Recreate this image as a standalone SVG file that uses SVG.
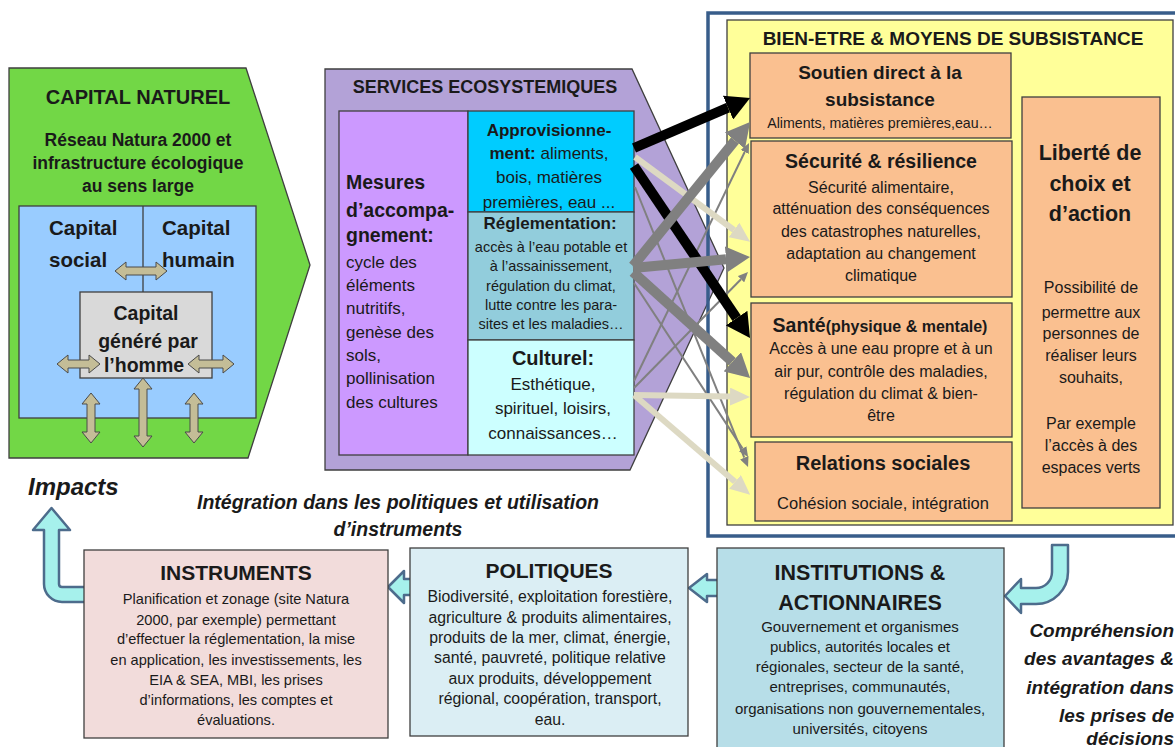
<svg xmlns="http://www.w3.org/2000/svg" width="1175" height="747" viewBox="0 0 1175 747">
<style>
text{font-family:"Liberation Sans",Arial,sans-serif;fill:#1a1a1a}
.m{text-anchor:middle}
.e{text-anchor:end}
.b{font-weight:bold}
.i{font-style:italic}
.bx{stroke:#3f3f3f;stroke-width:1.3}
.tan{fill:#c4bd97;stroke:#4a4a4a;stroke-width:1}
.cy{fill:#a6f1ec;stroke:#4d6c8c;stroke-width:2.5;stroke-linejoin:round}
.k{fill:none;stroke:#000;stroke-width:10;marker-end:url(#hK)}
.g{fill:none;stroke:#808080;stroke-width:10;marker-end:url(#hG)}
.be{fill:none;stroke:#ddd9c3;stroke-width:6;marker-end:url(#hB)}
.th{fill:none;stroke:#808080;stroke-width:2;marker-end:url(#hT)}
</style>
<defs>
<marker id="hK" markerUnits="userSpaceOnUse" viewBox="0 -13 24 26" refX="0" refY="0" markerWidth="24" markerHeight="26" orient="auto"><path d="M0,-13 L24,0 L0,13 z" fill="#000"/></marker>
<marker id="hG" markerUnits="userSpaceOnUse" viewBox="0 -13 24 26" refX="0" refY="0" markerWidth="24" markerHeight="26" orient="auto"><path d="M0,-13 L24,0 L0,13 z" fill="#808080"/></marker>
<marker id="hB" markerUnits="userSpaceOnUse" viewBox="0 -9 20 18" refX="0" refY="0" markerWidth="20" markerHeight="18" orient="auto"><path d="M0,-9 L20,0 L0,9 z" fill="#ddd9c3"/></marker>
<marker id="hT" markerUnits="userSpaceOnUse" viewBox="0 -4.5 10 9" refX="0" refY="0" markerWidth="10" markerHeight="9" orient="auto"><path d="M0,-4.5 L10,0 L0,4.5 z" fill="#808080"/></marker>
</defs>
<rect width="1175" height="747" fill="#fff"/>

<g id="capital-naturel">
<polygon class="bx" points="9,68 246,68 310,265 248,458 9,458" fill="#72d746"/>
<text class="b m" x="138" y="104" font-size="20">CAPITAL NATUREL</text>
<text class="b m" x="138" y="146" font-size="17.5">Réseau Natura 2000 et</text>
<text class="b m" x="138" y="169" font-size="17.5">infrastructure écologique</text>
<text class="b m" x="138" y="192" font-size="17.5">au sens large</text>
<rect class="bx" x="19" y="206" width="237" height="212" fill="#99ccff"/>
<line x1="143" y1="206" x2="143" y2="292" stroke="#3f3f3f" stroke-width="1.3"/>
<text class="b" x="49" y="235" font-size="20.5">Capital</text>
<text class="b" x="49" y="267" font-size="20.5">social</text>
<text class="b" x="162" y="235" font-size="20.5">Capital</text>
<text class="b" x="162" y="267" font-size="20.5">humain</text>
<rect class="bx" x="80" y="292" width="132" height="86" fill="#d9d9d9"/>
<text class="b m" x="146" y="320" font-size="19.5">Capital</text>
<text class="b m" x="148" y="348" font-size="19.5">généré par</text>
<text class="b m" x="144" y="372" font-size="19.5">l’homme</text>
<polygon class="tan" points="115,271 126,262 126,267 156,267 156,262 167,271 156,280 156,275 126,275 126,280"/>
<polygon class="tan" points="57,364 68,355 68,360 89,360 89,355 100,364 89,373 89,368 68,368 68,373"/>
<polygon class="tan" points="188,364 199,355 199,360 223,360 223,355 234,364 223,373 223,368 199,368 199,373"/>
<polygon class="tan" points="91,393 100,404 95,404 95,432 100,432 91,443 82,432 87,432 87,404 82,404"/>
<polygon class="tan" points="143,378 152,389 147,389 147,436 152,436 143,447 134,436 139,436 139,389 134,389"/>
<polygon class="tan" points="194,393 203,404 198,404 198,432 203,432 194,443 185,432 190,432 190,404 185,404"/>
</g>

<g id="services-ecosystemiques">
<polygon class="bx" points="325,69 632,69 724,268 630,470 325,470" fill="#b3a2d7"/>
<text class="b m" x="485" y="93" font-size="18">SERVICES ECOSYSTEMIQUES</text>
<rect class="bx" x="339" y="111" width="129" height="344" fill="#cc99ff"/>
<text class="b" x="346" y="189" font-size="19.5">Mesures</text>
<text class="b" x="346" y="217" font-size="19.5">d’accompa-</text>
<text class="b" x="346" y="242" font-size="19.5">gnement:</text>
<text x="346" y="268" font-size="17">cycle des</text>
<text x="346" y="291" font-size="17">éléments</text>
<text x="346" y="314" font-size="17">nutritifs,</text>
<text x="346" y="338" font-size="17">genèse des</text>
<text x="346" y="361" font-size="17">sols,</text>
<text x="346" y="384" font-size="17">pollinisation</text>
<text x="346" y="408" font-size="17">des cultures</text>
<rect class="bx" x="468" y="111" width="166" height="101" fill="#00ccff"/>
<text class="b m" x="549" y="136" font-size="17">Approvisionne-</text>
<text class="m" x="549" y="159" font-size="17"><tspan font-weight="bold">ment:</tspan> aliments,</text>
<text class="m" x="549" y="183" font-size="17">bois, matières</text>
<text class="m" x="549" y="208" font-size="17">premières, eau ...</text>
<rect class="bx" x="468" y="212" width="166" height="128" fill="#92cddc"/>
<text class="b m" x="550" y="229" font-size="17">Réglementation:</text>
<text class="m" x="551" y="252" font-size="14.5">accès à l’eau potable et</text>
<text class="m" x="551" y="271" font-size="14.5">à l’assainissement,</text>
<text class="m" x="551" y="291" font-size="14.5">régulation du climat,</text>
<text class="m" x="551" y="310" font-size="14.5">lutte contre les para-</text>
<text class="m" x="551" y="329" font-size="14.5">sites et les maladies…</text>
<rect class="bx" x="468" y="340" width="166" height="115" fill="#ccffff"/>
<text class="b m" x="553" y="365" font-size="20">Culturel:</text>
<text class="m" x="553" y="390" font-size="17">Esthétique,</text>
<text class="m" x="553" y="414" font-size="17">spirituel, loisirs,</text>
<text class="m" x="553" y="439" font-size="17">connaissances…</text>
</g>

<g id="bien-etre">
<rect x="708" y="13" width="475" height="523" fill="none" stroke="#385d8a" stroke-width="3.5"/>
<rect class="bx" x="727" y="20" width="446" height="505" fill="#ffff99"/>
<text class="b m" x="953" y="45" font-size="19">BIEN-ETRE &amp; MOYENS DE SUBSISTANCE</text>
<g id="soutien">
<rect class="bx" x="750" y="53" width="261" height="85" fill="#fac090"/>
<text class="b m" x="880" y="79" font-size="19">Soutien direct à la</text>
<text class="b m" x="880" y="106" font-size="19">subsistance</text>
<text class="m" x="880" y="128" font-size="14.2">Aliments, matières premières,eau…</text>
</g>
<g id="securite">
<rect class="bx" x="751" y="141" width="261" height="156" fill="#fac090"/>
<text class="b m" x="881" y="168" font-size="19.5">Sécurité &amp; résilience</text>
<text class="m" x="881" y="193" font-size="16">Sécurité alimentaire,</text>
<text class="m" x="881" y="214" font-size="16">atténuation des conséquences</text>
<text class="m" x="881" y="237" font-size="16">des catastrophes naturelles,</text>
<text class="m" x="881" y="259" font-size="16">adaptation au changement</text>
<text class="m" x="881" y="281" font-size="16">climatique</text>
</g>
<g id="sante">
<rect class="bx" x="751" y="303" width="261" height="134" fill="#fac090"/>
<text class="b m" x="880" y="332" font-size="19.5">Santé<tspan font-size="16">(physique &amp; mentale)</tspan></text>
<text class="m" x="881" y="354" font-size="16">Accès à une eau propre et à un</text>
<text class="m" x="881" y="377" font-size="16">air pur, contrôle des maladies,</text>
<text class="m" x="881" y="399" font-size="16">régulation du climat &amp; bien-</text>
<text class="m" x="881" y="421" font-size="16">être</text>
</g>
<g id="relations">
<rect class="bx" x="755" y="442" width="257" height="79" fill="#fac090"/>
<text class="b m" x="883" y="470" font-size="20">Relations sociales</text>
<text class="m" x="883" y="509" font-size="16.5">Cohésion sociale, intégration</text>
</g>
<g id="liberte">
<rect class="bx" x="1022" y="97" width="138" height="411" fill="#fac090"/>
<text class="b m" x="1090" y="160" font-size="21.5">Liberté de</text>
<text class="b m" x="1090" y="191" font-size="21.5">choix et</text>
<text class="b m" x="1090" y="221" font-size="21.5">d’action</text>
<text class="m" x="1091" y="293" font-size="16">Possibilité de</text>
<text class="m" x="1091" y="318" font-size="16">permettre aux</text>
<text class="m" x="1091" y="339" font-size="16">personnes de</text>
<text class="m" x="1091" y="361" font-size="16">réaliser leurs</text>
<text class="m" x="1091" y="383" font-size="16">souhaits,</text>
<text class="m" x="1091" y="429" font-size="16">Par exemple</text>
<text class="m" x="1091" y="451" font-size="16">l’accès à des</text>
<text class="m" x="1091" y="473" font-size="16">espaces verts</text>
</g>
</g>

<g id="connectors">
<path class="th" d="M634,381 L744.7,152"/>
<path class="th" d="M634,388 L741,279.2"/>
<path class="th" d="M634,283 L742.6,448.6"/>
<path class="th" d="M635,187 L744.3,457.7"/>
<path class="be" d="M635,157 L734,230"/>
<path class="be" d="M634,395 L730,396.6"/>
<path class="be" d="M634,395 L735,481.8"/>
<path class="k" d="M634,148 L728,107.6"/>
<path class="k" d="M634,166 L736.6,318.1"/>
<path class="g" d="M633,266 L734.9,140.7"/>
<path class="g" d="M633,268 L726.1,259.3"/>
<path class="g" d="M633,272 L732.3,361.8"/>
<path class="cy" d="M88,602 L62,602 A18,18 0 0 1 44,584 L44,530 L33,530 L51.5,508 L70,530 L59,530 L59,584 Q59,587 62,587 L88,587 Z"/>
<path class="cy" d="M414,595 L404,595 L404,603 L388,587 L404,571 L404,579 L414,579 Z"/>
<path class="cy" d="M721,596 L707,596 L707,602 L689,588 L707,574 L707,580 L721,580 Z"/>
<path class="cy" d="M1052,545 L1068,545 L1068,572 A32,32 0 0 1 1036,604 L1021,604 L1021,613 L1005,596 L1021,579 L1021,588 L1036,588 A16,16 0 0 0 1052,572 Z"/>
</g>

<g id="labels">
<text class="b i" x="28" y="495" font-size="24">Impacts</text>
<text class="b i m" x="398" y="509" font-size="19.5">Intégration dans les politiques et utilisation</text>
<text class="b i m" x="398" y="536" font-size="19.5">d’instruments</text>
<text class="b i e" x="1174" y="637" font-size="19">Compréhension</text>
<text class="b i e" x="1174" y="665" font-size="19">des avantages &amp;</text>
<text class="b i e" x="1174" y="694" font-size="19">intégration dans</text>
<text class="b i e" x="1174" y="722" font-size="19">les prises de</text>
<text class="b i e" x="1174" y="745" font-size="19">décisions</text>
</g>

<g id="instruments">
<rect class="bx" x="84" y="550" width="304" height="188" fill="#f2dcdb"/>
<text class="b m" x="236" y="580" font-size="21">INSTRUMENTS</text>
<text class="m" x="236" y="604" font-size="14.6">Planification et zonage (site Natura</text>
<text class="m" x="236" y="625" font-size="14.6">2000, par exemple) permettant</text>
<text class="m" x="236" y="644" font-size="14.6">d’effectuer la réglementation, la mise</text>
<text class="m" x="236" y="665" font-size="14.6">en application, les investissements, les</text>
<text class="m" x="236" y="685" font-size="14.6">EIA &amp; SEA, MBI, les prises</text>
<text class="m" x="236" y="705" font-size="14.6">d’informations, les comptes et</text>
<text class="m" x="236" y="725" font-size="14.6">évaluations.</text>
</g>

<g id="politiques">
<rect class="bx" x="410" y="548" width="278" height="188" fill="#dbeef4"/>
<text class="b m" x="549" y="578" font-size="21">POLITIQUES</text>
<text class="m" x="550" y="602" font-size="15.8">Biodiversité, exploitation forestière,</text>
<text class="m" x="550" y="623" font-size="15.8">agriculture &amp; produits alimentaires,</text>
<text class="m" x="550" y="643" font-size="15.8">produits de la mer, climat, énergie,</text>
<text class="m" x="550" y="663" font-size="15.8">santé, pauvreté, politique relative</text>
<text class="m" x="550" y="684" font-size="15.8">aux produits, développement</text>
<text class="m" x="550" y="704" font-size="15.8">régional, coopération, transport,</text>
<text class="m" x="550" y="725" font-size="15.8">eau.</text>
</g>

<g id="institutions">
<rect class="bx" x="717" y="548" width="287" height="205" fill="#b7dee8"/>
<text class="b m" x="860" y="580" font-size="21.5">INSTITUTIONS &amp;</text>
<text class="b m" x="860" y="610" font-size="21.5">ACTIONNAIRES</text>
<text class="m" x="860" y="632" font-size="15">Gouvernement et organismes</text>
<text class="m" x="860" y="652" font-size="15">publics, autorités locales et</text>
<text class="m" x="860" y="672" font-size="15">régionales, secteur de la santé,</text>
<text class="m" x="860" y="692" font-size="15">entreprises, communautés,</text>
<text class="m" x="860" y="714" font-size="15">organisations non gouvernementales,</text>
<text class="m" x="860" y="734" font-size="15">universités, citoyens</text>
</g>
</svg>
